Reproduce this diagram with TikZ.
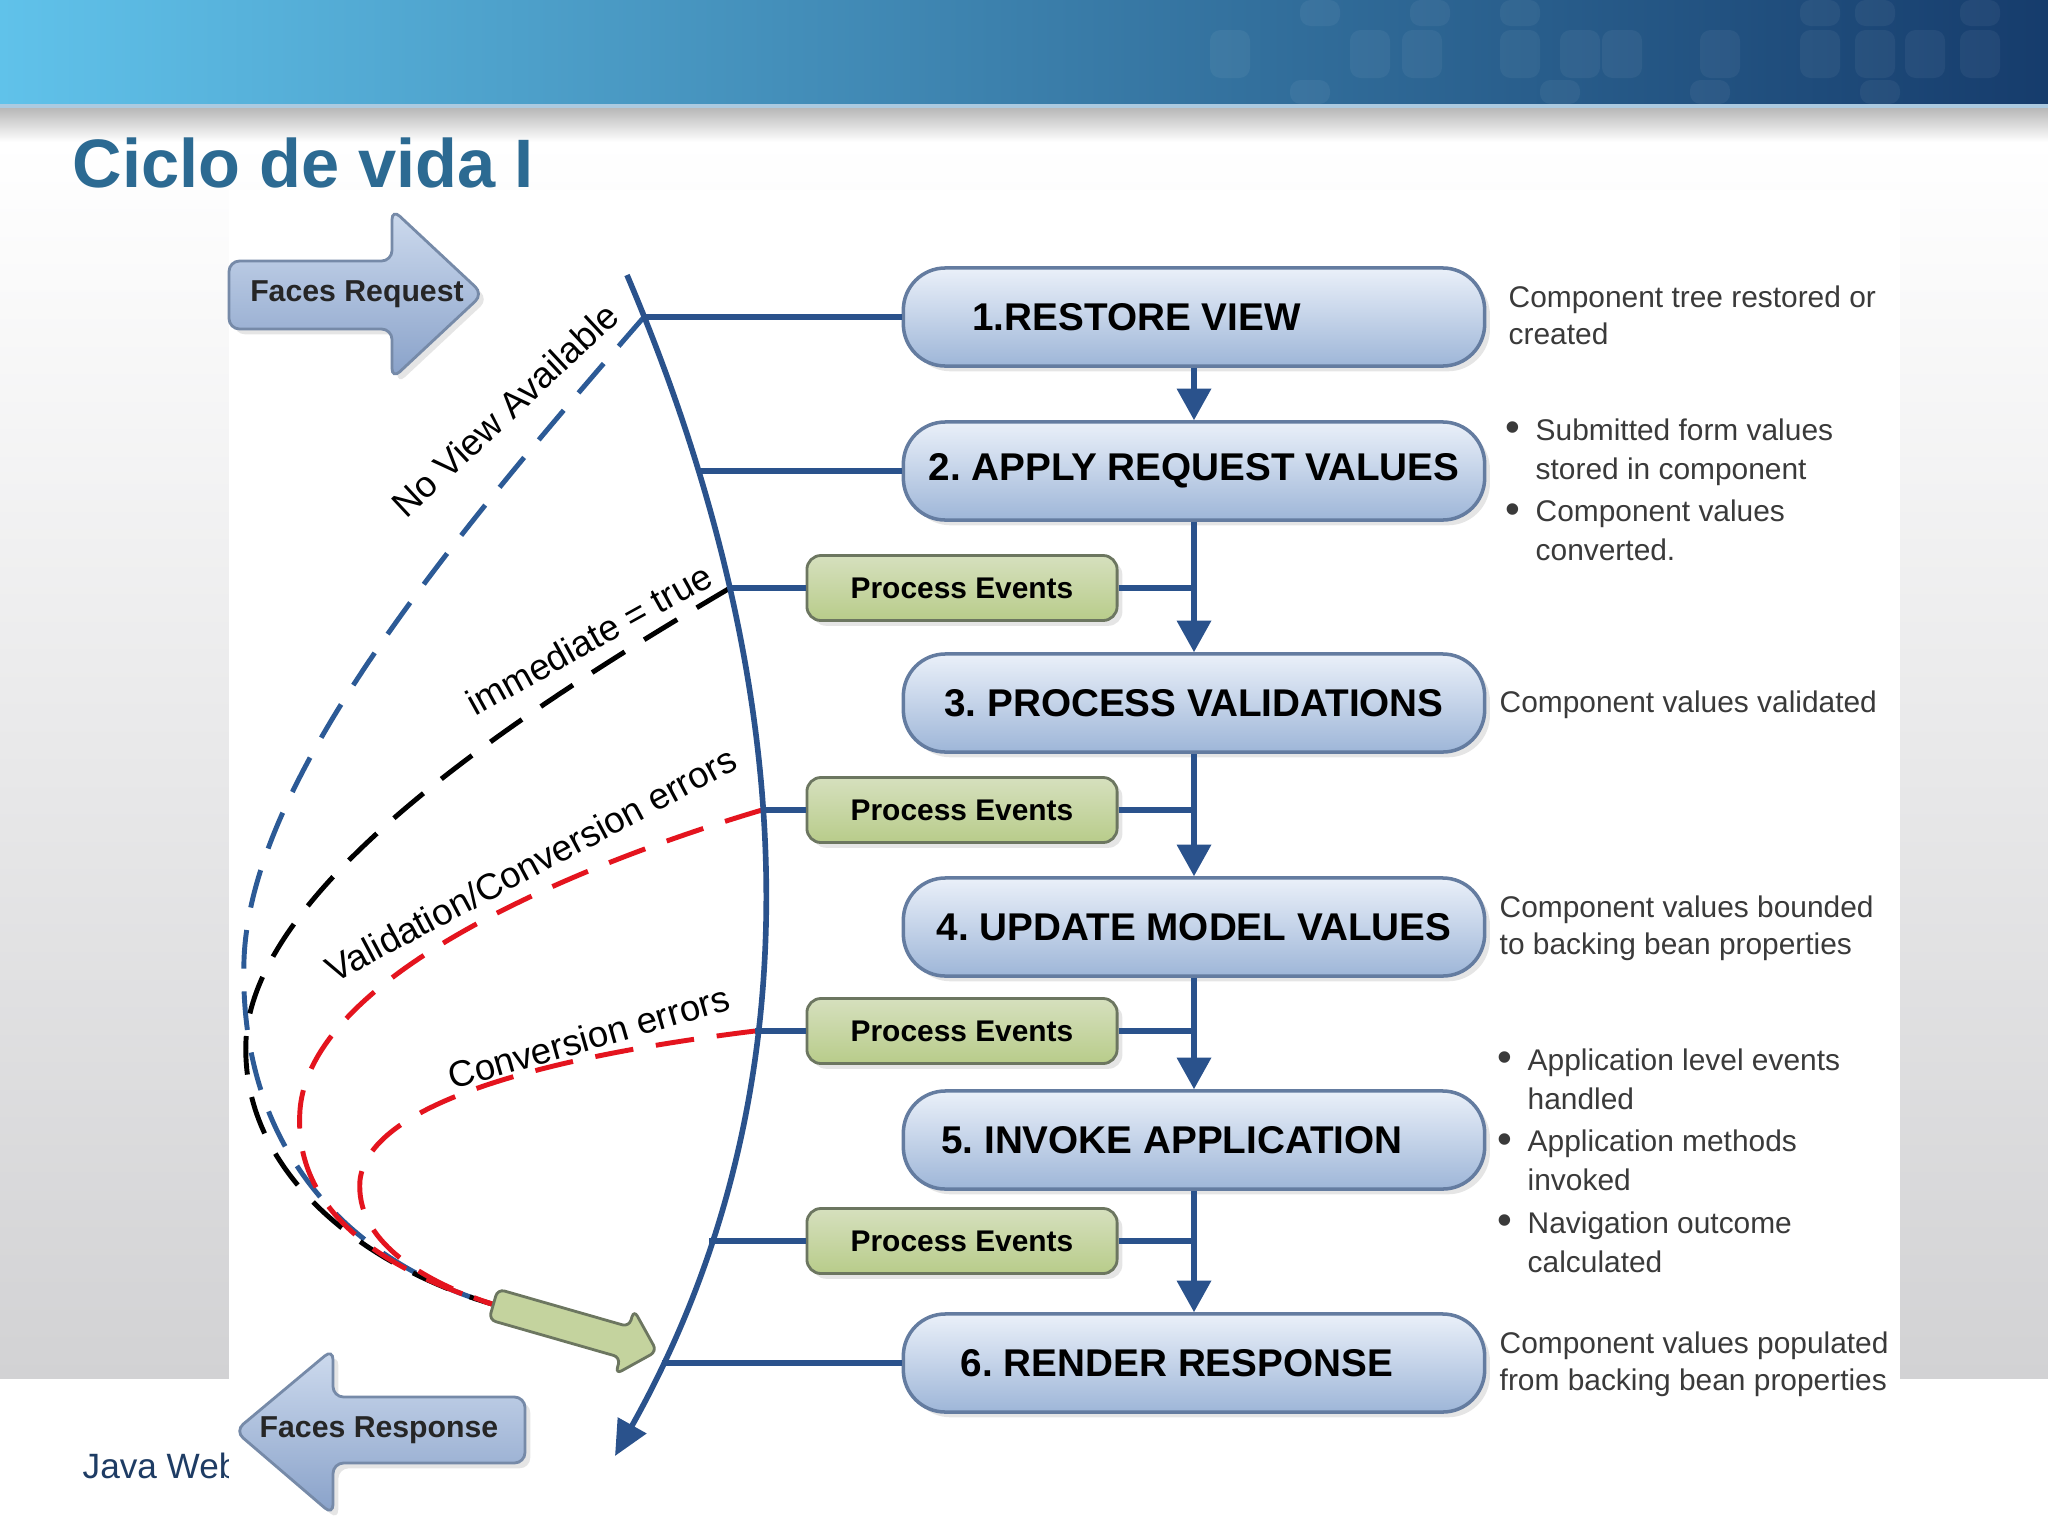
\documentclass[tikz,border=0pt]{standalone}
\usepackage{fontspec}
\setmainfont{Liberation Sans}
\usetikzlibrary{arrows.meta}
\usetikzlibrary{shapes.arrows}
\usetikzlibrary{shadows}

\definecolor{spineblue}{RGB}{42,82,140}
\definecolor{phasetop}{RGB}{234,240,249}
\definecolor{phasebot}{RGB}{158,182,216}
\definecolor{phaseline}{RGB}{100,124,160}
\definecolor{evtop}{RGB}{214,224,190}
\definecolor{evbot}{RGB}{184,204,138}
\definecolor{evline}{RGB}{108,118,96}
\definecolor{facetop}{RGB}{206,219,238}
\definecolor{facebot}{RGB}{136,161,201}
\definecolor{faceline}{RGB}{118,138,168}
\definecolor{titleblue}{RGB}{44,106,146}
\definecolor{notegray}{RGB}{58,58,58}
\definecolor{hdrleft}{RGB}{96,194,234}
\definecolor{hdrmid}{RGB}{54,126,174}
\definecolor{hdrright}{RGB}{22,60,108}
\definecolor{hdrline}{RGB}{172,202,224}
\definecolor{dashblue}{RGB}{44,90,150}
\definecolor{dashred}{RGB}{228,20,30}
\definecolor{footblue}{RGB}{30,60,100}
\definecolor{slidegray}{RGB}{210,210,212}

\tikzset{
  phase/.style={draw=phaseline, line width=1pt, rounded corners=0.42cm,
    top color=phasetop, bottom color=phasebot, minimum width=5.81cm,
    minimum height=0.98cm, inner sep=0pt,
    font=\bfseries\fontsize{11}{13}\selectfont,
    drop shadow={opacity=0.2, shadow xshift=1.5pt, shadow yshift=-1.5pt}},
  events/.style={draw=evline, line width=0.8pt, rounded corners=4pt,
    top color=evtop, bottom color=evbot, minimum width=3.1cm,
    minimum height=0.65cm, font=\bfseries\fontsize{8.5}{10}\selectfont,
    drop shadow={opacity=0.2, shadow xshift=1.5pt, shadow yshift=-1.5pt}},
  facebody/.style={draw=faceline, line width=0.8pt, rounded corners=3pt,
    top color=facetop, bottom color=facebot,
    drop shadow={opacity=0.2, shadow xshift=1.5pt, shadow yshift=-1.5pt}},
  facetext/.style={font=\bfseries\fontsize{8.6}{10}\selectfont, text=black!85, inner sep=0pt},
  garrow/.style={single arrow, draw=evline, line width=0.8pt, rounded corners=2pt,
    fill={rgb,255:red,196;green,211;blue,158}, minimum height=1.7cm,
    minimum width=0.63cm, single arrow head extend=0.175cm,
    single arrow tip angle=90, inner xsep=0pt, inner ysep=0.145cm},
  flow/.style={draw=spineblue, line width=1.6pt, -{Triangle[length=9pt,width=9.5pt]}},
  link/.style={draw=spineblue, line width=1.6pt},
  spine/.style={draw=spineblue, line width=1.6pt, -{Triangle[length=10pt,width=9pt]}},
  route/.style={line width=1.4pt, dash pattern=on 11pt off 6.5pt},
  lbl/.style={font=\fontsize{10.4}{12}\selectfont, inner sep=1pt},
  note/.style={anchor=north west, align=left, inner sep=0pt, text=notegray,
    font=\fontsize{8.5}{10.6}\selectfont},
}
\newcommand{\bul}{\makebox[0.3cm][l]{\raisebox{-0.3pt}{\large\textbullet}}}
\newcommand{\ind}{\hspace*{0.3cm}}

\begin{document}
\frenchspacing
\begin{tikzpicture}[x=0.01cm, y=-0.01cm]
    \useasboundingbox (0,0) rectangle (2048,1536);
    % slide
    \fill[white] (0,0) rectangle (2048,1536);
    \shade[top color=white, bottom color=slidegray] (0,140) rectangle (2048,1378);
    \shade[left color=hdrleft, middle color=hdrmid, right color=hdrright] (0,0) rectangle (2048,104);
    \foreach \x/\y/\h in {1210/30/48, 1350/30/48, 1402/30/48, 1500/30/48, 1560/30/48,
        1602/30/48, 1700/30/48, 1800/30/48, 1855/30/48, 1905/30/48, 1960/30/48,
        1300/0/26, 1410/0/26, 1500/0/26, 1800/0/26, 1855/0/26, 1960/0/26,
        1290/80/24, 1540/80/24, 1690/80/24, 1860/80/24}
      \fill[white, opacity=0.05, rounded corners=3] (\x,\y) rectangle ++(40,\h);
    \fill[hdrline] (0,104) rectangle (2048,108);
    \shade[top color=black!28, bottom color=white] (0,108) rectangle (2048,142);
    \node[anchor=base west, inner sep=0pt, text=titleblue, font=\bfseries\fontsize{19.5}{24}\selectfont] (title) at (72,187) {Ciclo de vida I};
    \node[anchor=base west, inner sep=0pt, text=footblue, font=\fontsize{10}{12}\selectfont] (foot) at (82,1478) {Java Web};
    \fill[white] (229,190) rectangle (1900,1536);

    % phases
    \node[phase] (rv) at (1194,317) {1.RESTORE VIEW\rule{1.15cm}{0pt}};
    \node[phase] (arv) at (1194,471) {2. APPLY REQUEST VALUES};
    \node[phase] (pv) at (1194,703) {3. PROCESS VALIDATIONS};
    \node[phase] (umv) at (1194,927) {4. UPDATE MODEL VALUES};
    \node[phase] (ia) at (1194,1140) {5. INVOKE APPLICATION\rule{0.44cm}{0pt}};
    \node[phase] (rr) at (1194,1363) {6. RENDER RESPONSE\rule{0.34cm}{0pt}};
    \node[events] (pe1) at (962,588) {Process Events};
    \node[events] (pe2) at (962,810) {Process Events};
    \node[events] (pe3) at (962,1031) {Process Events};
    \node[events] (pe4) at (962,1241) {Process Events};

    \path (pe1) edge[link] (pe1 -| arv);
    \path (pe2) edge[link] (pe2 -| arv);
    \path (pe3) edge[link] (pe3 -| arv);
    \path (pe4) edge[link] (pe4 -| arv);
    \path (rv) edge[flow] (arv);
    \path (arv) edge[flow] (pv);
    \path (pv) edge[flow] (umv);
    \path (umv) edge[flow] (ia);
    \path (ia) edge[flow] (rr);

    % where the main line meets the boxes
    \coordinate (sTop) at (627,275);
    \coordinate (sEnd) at (615,1456);
    \coordinate (j1) at (644,317);
    \coordinate (j2) at (698,471);
    \coordinate (je1) at (730,588);
    \coordinate (je2) at (762,810);
    \coordinate (je3) at (755,1031);
    \coordinate (je4) at (709,1241);
    \coordinate (j6) at (662,1363);
    \path (j1) edge[link] (rv);
    \path (j2) edge[link] (arv);
    \path (je1) edge[link] (pe1);
    \path (je2) edge[link] (pe2);
    \path (je3) edge[link] (pe3);
    \path (je4) edge[link] (pe4);
    \path (j6) edge[link] (rr);

    % short cuts to the response
    \coordinate (gTail) at (492,1304);
    \draw[route, dashblue] (j1) .. controls (450,540) and (250,780) .. (244,960)
        .. controls (238,1150) and (350,1262) .. (gTail);
    \draw[route, black] (je1) .. controls (540,700) and (255,880) .. (246,1040)
        .. controls (240,1170) and (360,1265) .. (gTail);
    \draw[route, dashred] (je2) .. controls (560,870) and (310,980) .. (300,1110)
        .. controls (292,1220) and (400,1275) .. (gTail);
    \draw[route, dashred] (je3) .. controls (560,1055) and (370,1100) .. (360,1180)
        .. controls (355,1240) and (420,1280) .. (gTail);
    \node[garrow, rotate=-16, anchor=tail] (gArrow) at (gTail) {};
    \node[lbl, rotate=43] (nva) at (505,410) {No View Available};
    \node[lbl, rotate=29] (imm) at (589,639) {immediate = true};
    \node[lbl, rotate=28] (vce) at (531,864) {Validation/Conversion errors};
    \node[lbl, rotate=16] (ce) at (589,1037) {Conversion errors};

    \draw[spine] (sTop) .. controls (814,715) and (810,1108) .. (sEnd);

    % request in, response out
    \draw[facebody] (229,261) -- (392,261) -- (392,209) -- (483,294) -- (392,379)
        -- (392,329) -- (229,329) -- cycle;
    \node[facetext] (freq) at (357,294) {Faces Request};
    \draw[facebody] (525,1397) -- (333,1397) -- (333,1349) -- (235,1431) -- (333,1515)
        -- (333,1463) -- (525,1463) -- cycle;
    \node[facetext] (fresp) at (379,1430) {Faces Response};

    % what each phase does
    \node[note] (n1) at (1508,285) {Component tree restored or\\created};
    \node[note, font=\fontsize{8.5}{11}\selectfont] (n2) at (1505,418)
      {\bul Submitted form values\\\ind stored in component\\[1.2pt]\bul Component values\\\ind converted.};
    \node[note] (n3) at (1499,690) {Component values validated};
    \node[note] (n4) at (1499,895) {Component values bounded\\to backing bean properties};
    \node[note, font=\fontsize{8.5}{11}\selectfont] (n5) at (1497,1048)
      {\bul Application level events\\\ind handled\\[1.2pt]\bul Application methods\\\ind invoked\\[1.2pt]\bul Navigation outcome\\\ind calculated};
    \node[note] (n6) at (1499,1331) {Component values populated\\from backing bean properties};
\end{tikzpicture}
\end{document}
